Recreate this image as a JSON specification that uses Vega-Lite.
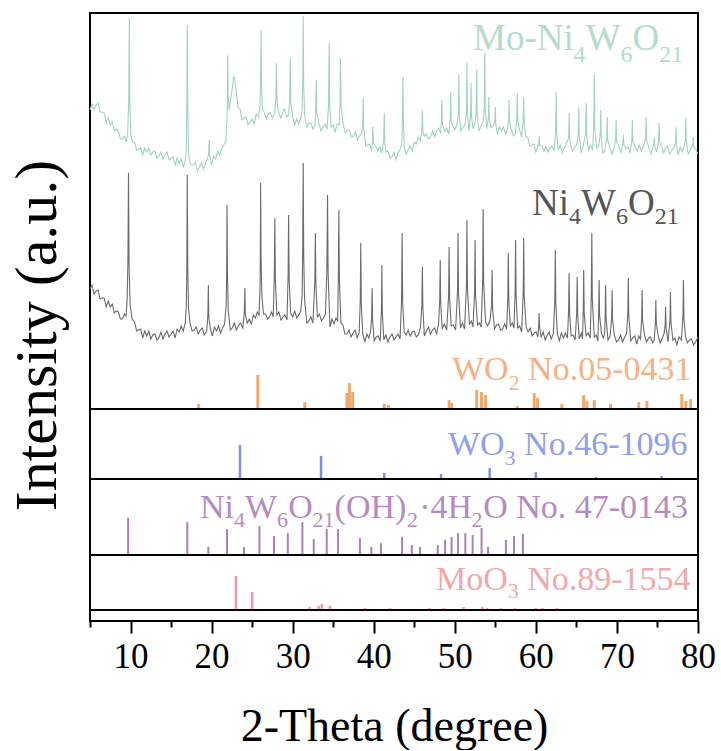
{
"$schema": "https://vega.github.io/schema/vega-lite/v6.json",
"background": "white",
"padding": {"left": 6, "top": 12, "right": 5, "bottom": 0},
"spacing": 0,
"bounds": "flush",
"config": {"view": {"stroke": "black", "strokeWidth": 2}, "axis": {"grid": false}, "font": "Liberation Serif"},
"datasets": {
"mo": [{"t":5,"i":80},{"t":5.25,"i":86},{"t":5.5,"i":80},{"t":5.75,"i":85},{"t":6,"i":87},{"t":6.25,"i":78},{"t":6.5,"i":78},{"t":6.75,"i":77},{"t":7,"i":67},{"t":7.25,"i":72},{"t":7.5,"i":65},{"t":7.75,"i":68},{"t":8,"i":59},{"t":8.25,"i":61},{"t":8.5,"i":59},{"t":8.75,"i":51},{"t":9,"i":51},{"t":9.25,"i":54},{"t":9.5,"i":48},{"t":9.65,"i":58},{"t":9.78,"i":90},{"t":9.85,"i":172},{"t":9.92,"i":85},{"t":10.05,"i":54},{"t":10.25,"i":48},{"t":10.5,"i":48},{"t":10.75,"i":40},{"t":11,"i":41},{"t":11.25,"i":42},{"t":11.5,"i":35},{"t":11.75,"i":42},{"t":12,"i":38},{"t":12.25,"i":42},{"t":12.5,"i":35},{"t":12.75,"i":38},{"t":13,"i":39},{"t":13.25,"i":32},{"t":13.5,"i":34},{"t":13.75,"i":38},{"t":14,"i":31},{"t":14.25,"i":35},{"t":14.5,"i":38},{"t":14.75,"i":30},{"t":15,"i":32},{"t":15.25,"i":33},{"t":15.5,"i":25},{"t":15.75,"i":32},{"t":16,"i":27},{"t":16.25,"i":31},{"t":16.5,"i":23},{"t":16.75,"i":29},{"t":16.88,"i":40},{"t":16.95,"i":90},{"t":17,"i":165},{"t":17.06,"i":85},{"t":17.15,"i":40},{"t":17.25,"i":30},{"t":17.5,"i":25},{"t":17.75,"i":25},{"t":18,"i":28},{"t":18.25,"i":19},{"t":18.5,"i":23},{"t":18.75,"i":27},{"t":19,"i":21},{"t":19.25,"i":27},{"t":19.5,"i":32},{"t":19.63,"i":35},{"t":19.7,"i":50},{"t":19.77,"i":34},{"t":20,"i":25},{"t":20.25,"i":34},{"t":20.5,"i":31},{"t":20.75,"i":39},{"t":21,"i":35},{"t":21.25,"i":41},{"t":21.5,"i":45},{"t":21.75,"i":48},{"t":21.9,"i":70},{"t":21.97,"i":100},{"t":22,"i":135},{"t":22.05,"i":95},{"t":22.15,"i":80},{"t":22.35,"i":90},{"t":22.55,"i":102},{"t":22.7,"i":112},{"t":22.8,"i":113},{"t":22.9,"i":108},{"t":23.05,"i":98},{"t":23.25,"i":83},{"t":23.5,"i":81},{"t":23.75,"i":70},{"t":24,"i":72},{"t":24.25,"i":73},{"t":24.5,"i":65},{"t":24.75,"i":68},{"t":25,"i":71},{"t":25.25,"i":66},{"t":25.5,"i":76},{"t":25.75,"i":73},{"t":25.95,"i":82},{"t":26.04,"i":110},{"t":26.1,"i":160},{"t":26.16,"i":105},{"t":26.27,"i":80},{"t":26.5,"i":78},{"t":26.75,"i":71},{"t":27,"i":76},{"t":27.25,"i":77},{"t":27.5,"i":72},{"t":27.75,"i":76},{"t":27.93,"i":90},{"t":28,"i":127},{"t":28.07,"i":88},{"t":28.25,"i":79},{"t":28.5,"i":72},{"t":28.75,"i":78},{"t":29,"i":81},{"t":29.25,"i":73},{"t":29.5,"i":75},{"t":29.63,"i":90},{"t":29.7,"i":132},{"t":29.77,"i":87},{"t":30,"i":73},{"t":30.25,"i":65},{"t":30.5,"i":71},{"t":30.75,"i":66},{"t":31,"i":72},{"t":31.15,"i":78},{"t":31.24,"i":110},{"t":31.3,"i":174},{"t":31.36,"i":105},{"t":31.47,"i":75},{"t":31.75,"i":63},{"t":32,"i":67},{"t":32.25,"i":67},{"t":32.5,"i":61},{"t":32.75,"i":64},{"t":32.84,"i":80},{"t":32.9,"i":110},{"t":32.96,"i":78},{"t":33.25,"i":66},{"t":33.5,"i":59},{"t":33.75,"i":63},{"t":34,"i":66},{"t":34.25,"i":61},{"t":34.42,"i":85},{"t":34.5,"i":147},{"t":34.57,"i":82},{"t":34.75,"i":63},{"t":35,"i":65},{"t":35.25,"i":58},{"t":35.5,"i":66},{"t":35.75,"i":65},{"t":35.84,"i":90},{"t":35.9,"i":132},{"t":35.97,"i":85},{"t":36.25,"i":65},{"t":36.5,"i":57},{"t":36.75,"i":60},{"t":37,"i":60},{"t":37.25,"i":53},{"t":37.5,"i":54},{"t":37.75,"i":58},{"t":38,"i":50},{"t":38.25,"i":54},{"t":38.5,"i":56},{"t":38.64,"i":65},{"t":38.7,"i":92},{"t":38.76,"i":62},{"t":39,"i":44},{"t":39.25,"i":45},{"t":39.5,"i":46},{"t":39.75,"i":39},{"t":39.85,"i":50},{"t":39.9,"i":63},{"t":39.96,"i":47},{"t":40.25,"i":44},{"t":40.5,"i":39},{"t":40.75,"i":43},{"t":41,"i":37},{"t":41.23,"i":50},{"t":41.3,"i":77},{"t":41.37,"i":47},{"t":41.5,"i":38},{"t":41.75,"i":39},{"t":42,"i":32},{"t":42.25,"i":33},{"t":42.5,"i":38},{"t":42.75,"i":30},{"t":43,"i":37},{"t":43.25,"i":41},{"t":43.45,"i":45},{"t":43.54,"i":70},{"t":43.6,"i":113},{"t":43.66,"i":68},{"t":43.78,"i":42},{"t":44,"i":36},{"t":44.25,"i":40},{"t":44.5,"i":44},{"t":44.75,"i":39},{"t":45,"i":48},{"t":45.25,"i":46},{"t":45.5,"i":53},{"t":45.75,"i":49},{"t":45.93,"i":60},{"t":46,"i":80},{"t":46.07,"i":58},{"t":46.25,"i":54},{"t":46.5,"i":56},{"t":46.75,"i":51},{"t":47,"i":53},{"t":47.25,"i":59},{"t":47.5,"i":53},{"t":47.75,"i":59},{"t":48,"i":62},{"t":48.25,"i":57},{"t":48.34,"i":68},{"t":48.4,"i":90},{"t":48.46,"i":66},{"t":48.75,"i":59},{"t":49,"i":62},{"t":49.25,"i":56},{"t":49.44,"i":70},{"t":49.5,"i":98},{"t":49.56,"i":69},{"t":49.75,"i":64},{"t":50,"i":60},{"t":50.25,"i":66},{"t":50.44,"i":75},{"t":50.5,"i":115},{"t":50.56,"i":73},{"t":50.75,"i":59},{"t":51,"i":63},{"t":51.25,"i":65},{"t":51.44,"i":78},{"t":51.5,"i":127},{"t":51.56,"i":77},{"t":51.75,"i":59},{"t":51.94,"i":75},{"t":52,"i":107},{"t":52.06,"i":74},{"t":52.25,"i":61},{"t":52.5,"i":67},{"t":52.64,"i":78},{"t":52.7,"i":120},{"t":52.76,"i":76},{"t":53,"i":59},{"t":53.25,"i":64},{"t":53.5,"i":69},{"t":53.64,"i":82},{"t":53.7,"i":137},{"t":53.76,"i":80},{"t":53.95,"i":61},{"t":54.14,"i":72},{"t":54.2,"i":93},{"t":54.26,"i":70},{"t":54.5,"i":62},{"t":54.75,"i":65},{"t":54.94,"i":68},{"t":55,"i":83},{"t":55.06,"i":66},{"t":55.25,"i":56},{"t":55.5,"i":63},{"t":55.75,"i":59},{"t":56,"i":63},{"t":56.25,"i":56},{"t":56.5,"i":61},{"t":56.64,"i":70},{"t":56.7,"i":90},{"t":56.76,"i":68},{"t":57,"i":60},{"t":57.25,"i":54},{"t":57.5,"i":57},{"t":57.64,"i":72},{"t":57.7,"i":97},{"t":57.76,"i":70},{"t":58,"i":60},{"t":58.25,"i":53},{"t":58.44,"i":70},{"t":58.5,"i":93},{"t":58.56,"i":66},{"t":58.75,"i":53},{"t":59,"i":53},{"t":59.25,"i":44},{"t":59.5,"i":45},{"t":59.75,"i":46},{"t":60,"i":38},{"t":60.34,"i":46},{"t":60.4,"i":54},{"t":60.46,"i":44},{"t":60.75,"i":44},{"t":61,"i":39},{"t":61.25,"i":44},{"t":61.5,"i":38},{"t":61.75,"i":42},{"t":62,"i":44},{"t":62.25,"i":39},{"t":62.44,"i":60},{"t":62.5,"i":98},{"t":62.56,"i":58},{"t":62.75,"i":40},{"t":63,"i":45},{"t":63.25,"i":37},{"t":63.5,"i":42},{"t":63.75,"i":46},{"t":64.04,"i":52},{"t":64.1,"i":77},{"t":64.16,"i":50},{"t":64.5,"i":39},{"t":64.75,"i":42},{"t":65,"i":45},{"t":65.24,"i":55},{"t":65.3,"i":82},{"t":65.36,"i":53},{"t":65.6,"i":37},{"t":65.9,"i":46},{"t":66.14,"i":57},{"t":66.2,"i":87},{"t":66.26,"i":55},{"t":66.5,"i":40},{"t":66.75,"i":45},{"t":67,"i":40},{"t":67.14,"i":65},{"t":67.2,"i":115},{"t":67.26,"i":62},{"t":67.5,"i":42},{"t":67.75,"i":44},{"t":67.94,"i":55},{"t":68,"i":80},{"t":68.06,"i":53},{"t":68.25,"i":37},{"t":68.5,"i":39},{"t":68.74,"i":52},{"t":68.8,"i":73},{"t":68.86,"i":50},{"t":69.1,"i":43},{"t":69.4,"i":36},{"t":69.65,"i":42},{"t":69.84,"i":50},{"t":69.9,"i":70},{"t":69.96,"i":48},{"t":70.25,"i":44},{"t":70.5,"i":37},{"t":70.75,"i":47},{"t":70.8,"i":55},{"t":70.86,"i":45},{"t":71.1,"i":41},{"t":71.4,"i":43},{"t":71.65,"i":37},{"t":71.84,"i":50},{"t":71.9,"i":70},{"t":71.96,"i":48},{"t":72.25,"i":43},{"t":72.5,"i":39},{"t":72.75,"i":45},{"t":73,"i":39},{"t":73.3,"i":44},{"t":73.54,"i":52},{"t":73.6,"i":73},{"t":73.66,"i":50},{"t":73.9,"i":43},{"t":74.2,"i":36},{"t":74.55,"i":46},{"t":74.6,"i":53},{"t":74.66,"i":44},{"t":74.9,"i":38},{"t":75.14,"i":50},{"t":75.2,"i":67},{"t":75.26,"i":48},{"t":75.5,"i":44},{"t":75.75,"i":37},{"t":76,"i":42},{"t":76.25,"i":44},{"t":76.5,"i":36},{"t":76.75,"i":39},{"t":77,"i":42},{"t":77.24,"i":47},{"t":77.3,"i":63},{"t":77.36,"i":45},{"t":77.55,"i":35},{"t":77.8,"i":43},{"t":78.05,"i":38},{"t":78.3,"i":44},{"t":78.44,"i":50},{"t":78.5,"i":72},{"t":78.56,"i":48},{"t":78.8,"i":36},{"t":79.05,"i":40},{"t":79.35,"i":45},{"t":79.4,"i":53},{"t":79.46,"i":43},{"t":79.7,"i":41},{"t":80,"i":36}],
"ni": [{"t":5,"i":71},{"t":5.25,"i":75},{"t":5.5,"i":66},{"t":5.75,"i":69},{"t":6,"i":70},{"t":6.25,"i":61},{"t":6.5,"i":62},{"t":6.75,"i":62},{"t":7,"i":53},{"t":7.25,"i":59},{"t":7.5,"i":53},{"t":7.75,"i":56},{"t":8,"i":47},{"t":8.25,"i":49},{"t":8.5,"i":48},{"t":8.75,"i":41},{"t":9,"i":41},{"t":9.25,"i":46},{"t":9.45,"i":44},{"t":9.58,"i":60},{"t":9.68,"i":100},{"t":9.75,"i":187},{"t":9.82,"i":95},{"t":9.95,"i":55},{"t":10.2,"i":41},{"t":10.5,"i":38},{"t":10.75,"i":29},{"t":11,"i":30},{"t":11.25,"i":31},{"t":11.5,"i":22},{"t":11.75,"i":29},{"t":12,"i":24},{"t":12.25,"i":29},{"t":12.5,"i":21},{"t":12.75,"i":25},{"t":13,"i":26},{"t":13.25,"i":20},{"t":13.5,"i":22},{"t":13.75,"i":28},{"t":14,"i":21},{"t":14.25,"i":26},{"t":14.5,"i":29},{"t":14.75,"i":23},{"t":15,"i":26},{"t":15.25,"i":29},{"t":15.5,"i":22},{"t":15.75,"i":31},{"t":16,"i":28},{"t":16.25,"i":34},{"t":16.5,"i":29},{"t":16.75,"i":37},{"t":16.88,"i":55},{"t":16.95,"i":95},{"t":17,"i":185},{"t":17.06,"i":92},{"t":17.15,"i":52},{"t":17.35,"i":36},{"t":17.6,"i":29},{"t":17.85,"i":30},{"t":18.1,"i":33},{"t":18.35,"i":26},{"t":18.6,"i":30},{"t":18.85,"i":32},{"t":19.1,"i":25},{"t":19.4,"i":29},{"t":19.54,"i":45},{"t":19.6,"i":75},{"t":19.66,"i":42},{"t":19.85,"i":31},{"t":20.1,"i":24},{"t":20.35,"i":33},{"t":20.6,"i":29},{"t":20.85,"i":34},{"t":21.1,"i":27},{"t":21.35,"i":32},{"t":21.6,"i":36},{"t":21.8,"i":55},{"t":21.86,"i":90},{"t":21.9,"i":155},{"t":21.95,"i":88},{"t":22.05,"i":50},{"t":22.3,"i":30},{"t":22.55,"i":32},{"t":22.8,"i":37},{"t":23.05,"i":30},{"t":23.3,"i":34},{"t":23.55,"i":37},{"t":23.85,"i":32},{"t":24.04,"i":48},{"t":24.1,"i":72},{"t":24.16,"i":46},{"t":24.4,"i":37},{"t":24.65,"i":41},{"t":24.9,"i":36},{"t":25.15,"i":45},{"t":25.4,"i":42},{"t":25.65,"i":48},{"t":25.85,"i":45},{"t":25.97,"i":70},{"t":26.01,"i":105},{"t":26.05,"i":177},{"t":26.1,"i":102},{"t":26.2,"i":65},{"t":26.4,"i":46},{"t":26.65,"i":46},{"t":26.9,"i":41},{"t":27.15,"i":43},{"t":27.4,"i":48},{"t":27.6,"i":43},{"t":27.74,"i":85},{"t":27.8,"i":142},{"t":27.86,"i":82},{"t":28.05,"i":45},{"t":28.3,"i":48},{"t":28.55,"i":40},{"t":28.8,"i":43},{"t":29.05,"i":45},{"t":29.3,"i":40},{"t":29.44,"i":85},{"t":29.5,"i":145},{"t":29.56,"i":82},{"t":29.75,"i":47},{"t":30,"i":43},{"t":30.25,"i":49},{"t":30.5,"i":42},{"t":30.75,"i":45},{"t":31,"i":49},{"t":31.17,"i":65},{"t":31.24,"i":110},{"t":31.3,"i":197},{"t":31.36,"i":105},{"t":31.47,"i":60},{"t":31.75,"i":37},{"t":32,"i":39},{"t":32.25,"i":43},{"t":32.5,"i":37},{"t":32.74,"i":80},{"t":32.8,"i":127},{"t":32.86,"i":77},{"t":33.05,"i":43},{"t":33.3,"i":46},{"t":33.55,"i":39},{"t":33.8,"i":42},{"t":34.05,"i":46},{"t":34.22,"i":90},{"t":34.3,"i":165},{"t":34.37,"i":87},{"t":34.6,"i":33},{"t":34.85,"i":41},{"t":35.1,"i":36},{"t":35.35,"i":42},{"t":35.55,"i":39},{"t":35.64,"i":85},{"t":35.7,"i":150},{"t":35.76,"i":82},{"t":35.95,"i":37},{"t":36.2,"i":35},{"t":36.45,"i":26},{"t":36.7,"i":26},{"t":36.95,"i":30},{"t":37.2,"i":23},{"t":37.45,"i":27},{"t":37.7,"i":30},{"t":37.95,"i":22},{"t":38.2,"i":27},{"t":38.34,"i":60},{"t":38.4,"i":117},{"t":38.46,"i":57},{"t":38.65,"i":26},{"t":38.9,"i":18},{"t":39.15,"i":26},{"t":39.4,"i":22},{"t":39.6,"i":28},{"t":39.74,"i":42},{"t":39.8,"i":72},{"t":39.86,"i":40},{"t":40.05,"i":19},{"t":40.3,"i":23},{"t":40.55,"i":24},{"t":40.8,"i":19},{"t":40.95,"i":50},{"t":41,"i":95},{"t":41.06,"i":47},{"t":41.25,"i":20},{"t":41.5,"i":25},{"t":41.75,"i":18},{"t":42,"i":23},{"t":42.25,"i":26},{"t":42.5,"i":20},{"t":42.75,"i":23},{"t":43,"i":26},{"t":43.25,"i":21},{"t":43.43,"i":60},{"t":43.5,"i":127},{"t":43.57,"i":57},{"t":43.75,"i":28},{"t":44,"i":25},{"t":44.25,"i":30},{"t":44.5,"i":24},{"t":44.75,"i":28},{"t":45,"i":29},{"t":45.25,"i":23},{"t":45.5,"i":25},{"t":45.75,"i":32},{"t":45.94,"i":55},{"t":46,"i":93},{"t":46.06,"i":52},{"t":46.25,"i":24},{"t":46.5,"i":29},{"t":46.75,"i":33},{"t":47,"i":26},{"t":47.25,"i":30},{"t":47.5,"i":32},{"t":47.75,"i":26},{"t":48,"i":36},{"t":48.14,"i":60},{"t":48.2,"i":100},{"t":48.26,"i":57},{"t":48.45,"i":31},{"t":48.7,"i":36},{"t":49,"i":30},{"t":49.24,"i":65},{"t":49.3,"i":113},{"t":49.36,"i":62},{"t":49.55,"i":34},{"t":49.8,"i":35},{"t":50.1,"i":30},{"t":50.34,"i":70},{"t":50.4,"i":127},{"t":50.46,"i":67},{"t":50.7,"i":32},{"t":50.95,"i":37},{"t":51.2,"i":31},{"t":51.44,"i":75},{"t":51.5,"i":140},{"t":51.56,"i":72},{"t":51.8,"i":36},{"t":52.05,"i":39},{"t":52.25,"i":33},{"t":52.44,"i":68},{"t":52.5,"i":120},{"t":52.56,"i":65},{"t":52.8,"i":35},{"t":53.05,"i":37},{"t":53.25,"i":33},{"t":53.44,"i":80},{"t":53.5,"i":151},{"t":53.56,"i":76},{"t":53.8,"i":38},{"t":54.05,"i":34},{"t":54.35,"i":40},{"t":54.54,"i":55},{"t":54.6,"i":90},{"t":54.66,"i":52},{"t":54.9,"i":31},{"t":55.15,"i":35},{"t":55.4,"i":36},{"t":55.65,"i":30},{"t":55.9,"i":31},{"t":56.15,"i":36},{"t":56.4,"i":31},{"t":56.54,"i":62},{"t":56.6,"i":107},{"t":56.66,"i":60},{"t":56.85,"i":34},{"t":57.1,"i":37},{"t":57.3,"i":32},{"t":57.44,"i":68},{"t":57.5,"i":120},{"t":57.56,"i":65},{"t":57.75,"i":32},{"t":58,"i":34},{"t":58.25,"i":28},{"t":58.44,"i":68},{"t":58.5,"i":122},{"t":58.56,"i":64},{"t":58.8,"i":33},{"t":59.05,"i":28},{"t":59.3,"i":32},{"t":59.55,"i":24},{"t":59.8,"i":27},{"t":60.05,"i":28},{"t":60.25,"i":23},{"t":60.35,"i":35},{"t":60.4,"i":47},{"t":60.46,"i":33},{"t":60.65,"i":23},{"t":60.9,"i":28},{"t":61.15,"i":20},{"t":61.4,"i":25},{"t":61.65,"i":28},{"t":61.9,"i":21},{"t":62.15,"i":26},{"t":62.34,"i":60},{"t":62.4,"i":110},{"t":62.46,"i":57},{"t":62.65,"i":26},{"t":62.9,"i":19},{"t":63.15,"i":27},{"t":63.4,"i":22},{"t":63.65,"i":27},{"t":63.9,"i":22},{"t":64.04,"i":50},{"t":64.1,"i":87},{"t":64.16,"i":47},{"t":64.35,"i":24},{"t":64.6,"i":25},{"t":64.85,"i":20},{"t":65.04,"i":48},{"t":65.1,"i":83},{"t":65.16,"i":46},{"t":65.35,"i":21},{"t":65.6,"i":27},{"t":65.75,"i":21},{"t":65.85,"i":50},{"t":65.9,"i":90},{"t":65.96,"i":47},{"t":66.2,"i":24},{"t":66.45,"i":27},{"t":66.7,"i":22},{"t":66.84,"i":65},{"t":66.9,"i":127},{"t":66.96,"i":62},{"t":67.2,"i":23},{"t":67.45,"i":25},{"t":67.65,"i":19},{"t":67.75,"i":48},{"t":67.8,"i":80},{"t":67.86,"i":45},{"t":68.1,"i":26},{"t":68.35,"i":22},{"t":68.5,"i":28},{"t":68.55,"i":45},{"t":68.6,"i":75},{"t":68.66,"i":42},{"t":68.9,"i":20},{"t":69.15,"i":24},{"t":69.35,"i":42},{"t":69.4,"i":70},{"t":69.46,"i":40},{"t":69.7,"i":24},{"t":69.95,"i":18},{"t":70.2,"i":20},{"t":70.45,"i":25},{"t":70.7,"i":18},{"t":70.95,"i":23},{"t":71.2,"i":27},{"t":71.35,"i":48},{"t":71.4,"i":82},{"t":71.46,"i":45},{"t":71.7,"i":19},{"t":71.95,"i":22},{"t":72.2,"i":24},{"t":72.45,"i":16},{"t":72.7,"i":24},{"t":72.9,"i":21},{"t":73.05,"i":42},{"t":73.1,"i":70},{"t":73.16,"i":40},{"t":73.4,"i":25},{"t":73.65,"i":18},{"t":73.9,"i":22},{"t":74.15,"i":23},{"t":74.4,"i":17},{"t":74.6,"i":20},{"t":74.75,"i":38},{"t":74.8,"i":60},{"t":74.86,"i":36},{"t":75.1,"i":24},{"t":75.35,"i":17},{"t":75.6,"i":22},{"t":75.8,"i":26},{"t":75.95,"i":35},{"t":76,"i":53},{"t":76.06,"i":33},{"t":76.3,"i":18},{"t":76.55,"i":40},{"t":76.6,"i":68},{"t":76.66,"i":38},{"t":76.9,"i":20},{"t":77.15,"i":22},{"t":77.4,"i":15},{"t":77.65,"i":23},{"t":77.95,"i":20},{"t":78.15,"i":45},{"t":78.2,"i":80},{"t":78.26,"i":42},{"t":78.45,"i":24},{"t":78.7,"i":17},{"t":78.95,"i":20},{"t":79.2,"i":21},{"t":79.45,"i":15},{"t":79.7,"i":18},{"t":80,"i":23}],
"wo2": [{"t":18.4,"i":15},{"t":25.7,"i":100},{"t":31.5,"i":20},{"t":36.7,"i":47},{"t":37.0,"i":76},{"t":37.4,"i":50},{"t":41.3,"i":15},{"t":41.8,"i":12},{"t":49.3,"i":26},{"t":49.6,"i":18},{"t":52.7,"i":56},{"t":53.3,"i":50},{"t":53.8,"i":41},{"t":57.7,"i":9},{"t":59.8,"i":47},{"t":60.2,"i":32},{"t":63.2,"i":15},{"t":65.9,"i":41},{"t":66.3,"i":24},{"t":67.2,"i":26},{"t":69.2,"i":15},{"t":72.7,"i":20},{"t":73.7,"i":24},{"t":78.0,"i":44},{"t":78.5,"i":24},{"t":79.1,"i":29}],
"wo3": [{"t":23.5,"i":100},{"t":33.5,"i":68},{"t":41.3,"i":18},{"t":48.3,"i":15},{"t":54.3,"i":32},{"t":60.0,"i":20},{"t":67.4,"i":6},{"t":75.5,"i":9}],
"nioh": [{"t":9.7,"i":100},{"t":17.0,"i":89},{"t":19.6,"i":22},{"t":21.9,"i":70},{"t":24.0,"i":22},{"t":25.9,"i":78},{"t":27.7,"i":51},{"t":29.4,"i":59},{"t":31.2,"i":89},{"t":32.6,"i":43},{"t":34.2,"i":70},{"t":35.6,"i":70},{"t":38.3,"i":46},{"t":39.7,"i":22},{"t":40.9,"i":32},{"t":43.5,"i":49},{"t":44.7,"i":27},{"t":45.7,"i":22},{"t":47.9,"i":27},{"t":48.8,"i":41},{"t":49.6,"i":49},{"t":50.4,"i":59},{"t":51.3,"i":59},{"t":52.2,"i":54},{"t":53.3,"i":73},{"t":54.1,"i":22},{"t":56.3,"i":41},{"t":57.3,"i":51},{"t":58.4,"i":57}],
"moo3": [{"t":23.0,"i":100},{"t":25.0,"i":53},{"t":32.1,"i":9},{"t":33.2,"i":12},{"t":33.6,"i":18},{"t":34.6,"i":12},{"t":38.9,"i":6},{"t":42.0,"i":6},{"t":46.9,"i":6},{"t":48.6,"i":6},{"t":51.1,"i":9},{"t":53.4,"i":9},{"t":54.0,"i":6},{"t":55.7,"i":6},{"t":57.4,"i":6},{"t":60.0,"i":6},{"t":60.8,"i":6},{"t":62.6,"i":6}]
},
"vconcat": [
{
"width": 608, "height": 396,
"resolve": {"scale": {"y": "independent"}},
"layer": [
{"layer": [
{"data": {"name": "mo"}, "mark": {"type": "line", "color": "#a0d4bc", "strokeWidth": 1.1},
 "encoding": {"x": {"field": "t", "type": "quantitative", "scale": {"domain": [5, 80], "nice": false, "zero": false}, "axis": null},
 "y": {"field": "i", "type": "quantitative", "scale": {"domain": [-219, 177], "nice": false, "zero": false},
  "axis": {"title": "Intensity (a.u.)", "labels": false, "ticks": false, "domain": false, "grid": false, "titleFont": "Liberation Serif", "titleFontSize": 60, "titleFontWeight": "normal", "titleColor": "black", "titlePadding": 22, "titleY": 322}}}},
{"data": {"values": [{}]}, "mark": {"type": "text", "align": "left", "baseline": "alphabetic", "font": "Liberation Serif", "fontSize": 37, "color": "#b5dcc9"}, "encoding": {"x": {"datum": 52.25, "type": "quantitative", "axis": null}, "y": {"datum": 140, "type": "quantitative"}, "text": {"value": "Mo-Ni"}}},
{"data": {"values": [{}]}, "mark": {"type": "text", "align": "left", "baseline": "alphabetic", "font": "Liberation Serif", "fontSize": 24, "color": "#b5dcc9"}, "encoding": {"x": {"datum": 64.65, "type": "quantitative", "axis": null}, "y": {"datum": 128, "type": "quantitative"}, "text": {"value": "4"}}},
{"data": {"values": [{}]}, "mark": {"type": "text", "align": "left", "baseline": "alphabetic", "font": "Liberation Serif", "fontSize": 37, "color": "#b5dcc9"}, "encoding": {"x": {"datum": 66.15, "type": "quantitative", "axis": null}, "y": {"datum": 140, "type": "quantitative"}, "text": {"value": "W"}}},
{"data": {"values": [{}]}, "mark": {"type": "text", "align": "left", "baseline": "alphabetic", "font": "Liberation Serif", "fontSize": 24, "color": "#b5dcc9"}, "encoding": {"x": {"datum": 70.45, "type": "quantitative", "axis": null}, "y": {"datum": 128, "type": "quantitative"}, "text": {"value": "6"}}},
{"data": {"values": [{}]}, "mark": {"type": "text", "align": "left", "baseline": "alphabetic", "font": "Liberation Serif", "fontSize": 37, "color": "#b5dcc9"}, "encoding": {"x": {"datum": 71.93, "type": "quantitative", "axis": null}, "y": {"datum": 140, "type": "quantitative"}, "text": {"value": "O"}}},
{"data": {"values": [{}]}, "mark": {"type": "text", "align": "left", "baseline": "alphabetic", "font": "Liberation Serif", "fontSize": 24, "color": "#b5dcc9"}, "encoding": {"x": {"datum": 75.23, "type": "quantitative", "axis": null}, "y": {"datum": 128, "type": "quantitative"}, "text": {"value": "21"}}}
]},
{"layer": [
{"data": {"name": "ni"}, "mark": {"type": "line", "color": "#6b6b6b", "strokeWidth": 1.1},
 "encoding": {"x": {"field": "t", "type": "quantitative", "scale": {"domain": [5, 80], "nice": false, "zero": false}, "axis": null},
 "y": {"field": "i", "type": "quantitative", "scale": {"domain": [-49, 347], "nice": false, "zero": false}, "axis": null}}},
{"data": {"values": [{}]}, "mark": {"type": "text", "align": "left", "baseline": "alphabetic", "font": "Liberation Serif", "fontSize": 37, "color": "#555555"}, "encoding": {"x": {"datum": 59.52, "type": "quantitative", "axis": null}, "y": {"datum": 145, "type": "quantitative", "axis": null}, "text": {"value": "Ni"}}},
{"data": {"values": [{}]}, "mark": {"type": "text", "align": "left", "baseline": "alphabetic", "font": "Liberation Serif", "fontSize": 24, "color": "#555555"}, "encoding": {"x": {"datum": 64.09, "type": "quantitative", "axis": null}, "y": {"datum": 136, "type": "quantitative", "axis": null}, "text": {"value": "4"}}},
{"data": {"values": [{}]}, "mark": {"type": "text", "align": "left", "baseline": "alphabetic", "font": "Liberation Serif", "fontSize": 37, "color": "#555555"}, "encoding": {"x": {"datum": 65.57, "type": "quantitative", "axis": null}, "y": {"datum": 145, "type": "quantitative", "axis": null}, "text": {"value": "W"}}},
{"data": {"values": [{}]}, "mark": {"type": "text", "align": "left", "baseline": "alphabetic", "font": "Liberation Serif", "fontSize": 24, "color": "#555555"}, "encoding": {"x": {"datum": 69.87, "type": "quantitative", "axis": null}, "y": {"datum": 136, "type": "quantitative", "axis": null}, "text": {"value": "6"}}},
{"data": {"values": [{}]}, "mark": {"type": "text", "align": "left", "baseline": "alphabetic", "font": "Liberation Serif", "fontSize": 37, "color": "#555555"}, "encoding": {"x": {"datum": 71.35, "type": "quantitative", "axis": null}, "y": {"datum": 145, "type": "quantitative", "axis": null}, "text": {"value": "O"}}},
{"data": {"values": [{}]}, "mark": {"type": "text", "align": "left", "baseline": "alphabetic", "font": "Liberation Serif", "fontSize": 24, "color": "#555555"}, "encoding": {"x": {"datum": 74.65, "type": "quantitative", "axis": null}, "y": {"datum": 136, "type": "quantitative", "axis": null}, "text": {"value": "21"}}}
]},
{"layer": [
{"data": {"name": "wo2"}, "mark": {"type": "rule", "color": "#f4a868", "strokeWidth": 3},
 "encoding": {"x": {"field": "t", "type": "quantitative", "scale": {"domain": [5, 80], "nice": false, "zero": false}, "axis": null},
 "y": {"field": "i", "type": "quantitative", "scale": {"domain": [0, 1164.7], "nice": false, "zero": false}, "axis": null}, "y2": {"datum": 0}}},
{"data": {"values": [{}]}, "mark": {"type": "text", "align": "left", "baseline": "alphabetic", "font": "Liberation Serif", "fontSize": 34, "color": "#f5b183"}, "encoding": {"x": {"datum": 49.65, "type": "quantitative", "axis": null}, "y": {"datum": 85.3, "type": "quantitative", "axis": null}, "text": {"value": "WO"}}},
{"data": {"values": [{}]}, "mark": {"type": "text", "align": "left", "baseline": "alphabetic", "font": "Liberation Serif", "fontSize": 22, "color": "#f5b183"}, "encoding": {"x": {"datum": 56.64, "type": "quantitative", "axis": null}, "y": {"datum": 55.9, "type": "quantitative", "axis": null}, "text": {"value": "2"}}},
{"data": {"values": [{}]}, "mark": {"type": "text", "align": "left", "baseline": "alphabetic", "font": "Liberation Serif", "fontSize": 34, "color": "#f5b183"}, "encoding": {"x": {"datum": 59.04, "type": "quantitative", "axis": null}, "y": {"datum": 85.3, "type": "quantitative", "axis": null}, "text": {"value": "No.05-0431"}}}
]}
]
},
{
"width": 608, "height": 70,
"layer": [
{"data": {"name": "wo3"}, "mark": {"type": "rule", "color": "#7b8fe6", "strokeWidth": 2.5},
 "encoding": {"x": {"field": "t", "type": "quantitative", "scale": {"domain": [5, 80], "nice": false, "zero": false}, "axis": null},
 "y": {"field": "i", "type": "quantitative", "scale": {"domain": [0, 205.9], "nice": false, "zero": false}, "axis": null}, "y2": {"datum": 0}}},
{"data": {"values": [{}]}, "mark": {"type": "text", "align": "left", "baseline": "alphabetic", "font": "Liberation Serif", "fontSize": 34, "color": "#8ea1ea"}, "encoding": {"x": {"datum": 49.16, "type": "quantitative", "axis": null}, "y": {"datum": 70.6, "type": "quantitative", "axis": null}, "text": {"value": "WO"}}},
{"data": {"values": [{}]}, "mark": {"type": "text", "align": "left", "baseline": "alphabetic", "font": "Liberation Serif", "fontSize": 22, "color": "#8ea1ea"}, "encoding": {"x": {"datum": 56.14, "type": "quantitative", "axis": null}, "y": {"datum": 41.2, "type": "quantitative", "axis": null}, "text": {"value": "3"}}},
{"data": {"values": [{}]}, "mark": {"type": "text", "align": "left", "baseline": "alphabetic", "font": "Liberation Serif", "fontSize": 34, "color": "#8ea1ea"}, "encoding": {"x": {"datum": 58.55, "type": "quantitative", "axis": null}, "y": {"datum": 70.6, "type": "quantitative", "axis": null}, "text": {"value": "No.46-1096"}}}
]
},
{
"width": 608, "height": 76,
"layer": [
{"data": {"name": "nioh"}, "mark": {"type": "rule", "color": "#ad7fb6", "strokeWidth": 2},
 "encoding": {"x": {"field": "t", "type": "quantitative", "scale": {"domain": [5, 80], "nice": false, "zero": false}, "axis": null},
 "y": {"field": "i", "type": "quantitative", "scale": {"domain": [0, 205.4], "nice": false, "zero": false}, "axis": null}, "y2": {"datum": 0}}},
{"data": {"values": [{}]}, "mark": {"type": "text", "align": "left", "baseline": "alphabetic", "font": "Liberation Serif", "fontSize": 34, "color": "#b68cc0"}, "encoding": {"x": {"datum": 18.57, "type": "quantitative", "axis": null}, "y": {"datum": 100, "type": "quantitative", "axis": null}, "text": {"value": "Ni"}}},
{"data": {"values": [{}]}, "mark": {"type": "text", "align": "left", "baseline": "alphabetic", "font": "Liberation Serif", "fontSize": 22, "color": "#b68cc0"}, "encoding": {"x": {"datum": 22.76, "type": "quantitative", "axis": null}, "y": {"datum": 75.7, "type": "quantitative", "axis": null}, "text": {"value": "4"}}},
{"data": {"values": [{}]}, "mark": {"type": "text", "align": "left", "baseline": "alphabetic", "font": "Liberation Serif", "fontSize": 34, "color": "#b68cc0"}, "encoding": {"x": {"datum": 24.12, "type": "quantitative", "axis": null}, "y": {"datum": 100, "type": "quantitative", "axis": null}, "text": {"value": "W"}}},
{"data": {"values": [{}]}, "mark": {"type": "text", "align": "left", "baseline": "alphabetic", "font": "Liberation Serif", "fontSize": 22, "color": "#b68cc0"}, "encoding": {"x": {"datum": 28.08, "type": "quantitative", "axis": null}, "y": {"datum": 75.7, "type": "quantitative", "axis": null}, "text": {"value": "6"}}},
{"data": {"values": [{}]}, "mark": {"type": "text", "align": "left", "baseline": "alphabetic", "font": "Liberation Serif", "fontSize": 34, "color": "#b68cc0"}, "encoding": {"x": {"datum": 29.44, "type": "quantitative", "axis": null}, "y": {"datum": 100, "type": "quantitative", "axis": null}, "text": {"value": "O"}}},
{"data": {"values": [{}]}, "mark": {"type": "text", "align": "left", "baseline": "alphabetic", "font": "Liberation Serif", "fontSize": 22, "color": "#b68cc0"}, "encoding": {"x": {"datum": 32.46, "type": "quantitative", "axis": null}, "y": {"datum": 75.7, "type": "quantitative", "axis": null}, "text": {"value": "21"}}},
{"data": {"values": [{}]}, "mark": {"type": "text", "align": "left", "baseline": "alphabetic", "font": "Liberation Serif", "fontSize": 34, "color": "#b68cc0"}, "encoding": {"x": {"datum": 35.17, "type": "quantitative", "axis": null}, "y": {"datum": 100, "type": "quantitative", "axis": null}, "text": {"value": "(OH)"}}},
{"data": {"values": [{}]}, "mark": {"type": "text", "align": "left", "baseline": "alphabetic", "font": "Liberation Serif", "fontSize": 22, "color": "#b68cc0"}, "encoding": {"x": {"datum": 44.1, "type": "quantitative", "axis": null}, "y": {"datum": 75.7, "type": "quantitative", "axis": null}, "text": {"value": "2"}}},
{"data": {"values": [{}]}, "mark": {"type": "text", "align": "left", "baseline": "alphabetic", "font": "Liberation Serif", "fontSize": 34, "color": "#b68cc0"}, "encoding": {"x": {"datum": 45.6, "type": "quantitative", "axis": null}, "y": {"datum": 100, "type": "quantitative", "axis": null}, "text": {"value": "·4H"}}},
{"data": {"values": [{}]}, "mark": {"type": "text", "align": "left", "baseline": "alphabetic", "font": "Liberation Serif", "fontSize": 22, "color": "#b68cc0"}, "encoding": {"x": {"datum": 52.05, "type": "quantitative", "axis": null}, "y": {"datum": 75.7, "type": "quantitative", "axis": null}, "text": {"value": "2"}}},
{"data": {"values": [{}]}, "mark": {"type": "text", "align": "left", "baseline": "alphabetic", "font": "Liberation Serif", "fontSize": 34, "color": "#b68cc0"}, "encoding": {"x": {"datum": 53.5, "type": "quantitative", "axis": null}, "y": {"datum": 100, "type": "quantitative", "axis": null}, "text": {"value": "O No. 47-0143"}}}
]
},
{
"width": 608, "height": 66,
"layer": [
{"data": {"name": "moo3"}, "mark": {"type": "rule", "color": "#f09aa0", "strokeWidth": 2.5},
 "encoding": {"x": {"field": "t", "type": "quantitative", "scale": {"domain": [5, 80], "nice": false, "zero": false},
   "axis": {"values": [5,10,15,20,25,30,35,40,45,50,55,60,65,70,75,80], "labelExpr": "datum.value % 10 === 0 ? datum.label : ''", "domain": false, "grid": false, "ticks": true, "tickColor": "black", "tickWidth": 2, "tickSize": {"condition": {"test": "datum.value % 10 === 0", "value": 12}, "value": 6}, "labelFont": "Liberation Serif", "labelFontSize": 35, "labelColor": "black", "labelPadding": 6, "labelFlush": false, "labelOverlap": false, "title": "2-Theta (degree)", "titleFont": "Liberation Serif", "titleFontSize": 46, "titleFontWeight": "normal", "titleColor": "black", "titlePadding": 30}},
 "y": {"field": "i", "type": "quantitative", "scale": {"domain": [-32.35, 161.76], "nice": false, "zero": false}, "axis": null}, "y2": {"datum": 0}}},
{"data": {"values": [{}]}, "mark": {"type": "rule", "color": "black", "strokeWidth": 2}, "encoding": {"y": {"datum": 0, "type": "quantitative", "axis": null}}},
{"data": {"values": [{}]}, "mark": {"type": "text", "align": "left", "baseline": "alphabetic", "font": "Liberation Serif", "fontSize": 34, "color": "#f2a8a8"}, "encoding": {"x": {"datum": 47.68, "type": "quantitative"}, "y": {"datum": 58.8, "type": "quantitative", "axis": null}, "text": {"value": "MoO"}}},
{"data": {"values": [{}]}, "mark": {"type": "text", "align": "left", "baseline": "alphabetic", "font": "Liberation Serif", "fontSize": 22, "color": "#f2a8a8"}, "encoding": {"x": {"datum": 56.53, "type": "quantitative"}, "y": {"datum": 35.3, "type": "quantitative", "axis": null}, "text": {"value": "3"}}},
{"data": {"values": [{}]}, "mark": {"type": "text", "align": "left", "baseline": "alphabetic", "font": "Liberation Serif", "fontSize": 34, "color": "#f2a8a8"}, "encoding": {"x": {"datum": 58.93, "type": "quantitative"}, "y": {"datum": 58.8, "type": "quantitative", "axis": null}, "text": {"value": "No.89-1554"}}}
]
}
]
}
